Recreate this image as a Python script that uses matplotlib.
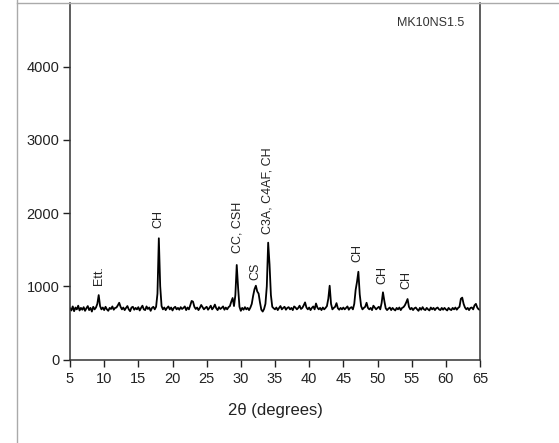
from matplotlib import pyplot as plt
from matplotlib.lines import Line2D
import numpy as np

plt.rcParams['font.family'] = ['Liberation Sans', 'DejaVu Sans']

# Define data (XRD pattern, 0.2 degree steps from 5 to 65).
two_theta = np.round(np.arange(5.0, 65.01, 0.2), 1)
intensity = [
    700, 670, 725, 660, 710, 685, 735, 670, 705, 680,     # 5.0 - 6.8
    715, 665, 700, 730, 675, 705, 655, 720, 685, 710,     # 7.0 - 8.8
    760, 880, 730, 685, 710, 675, 720, 685, 665, 705,     # 9.0 - 10.8
    690, 725, 680, 705, 710, 740, 775, 720, 685, 710,     # 11.0 - 12.8
    675, 705, 730, 685, 660, 710, 720, 680, 705, 685,     # 13.0 - 14.8
    715, 670, 705, 735, 685, 675, 725, 690, 710, 665,     # 15.0 - 16.8
    705, 720, 685, 720, 900, 1656, 1000, 730, 685, 710,   # 17.0 - 18.8
    675, 705, 725, 685, 710, 670, 705, 720, 685, 705,     # 19.0 - 20.8
    680, 715, 690, 705, 725, 675, 710, 685, 740, 800,     # 21.0 - 22.8
    790, 720, 690, 710, 675, 705, 745, 715, 685, 705,     # 23.0 - 24.8
    720, 680, 705, 735, 685, 710, 750, 700, 675, 715,     # 25.0 - 26.8
    690, 705, 725, 680, 710, 685, 715, 730, 790, 840,     # 27.0 - 28.8
    730, 880, 1291, 980, 720, 665, 705, 680, 715, 685,    # 29.0 - 30.8
    705, 675, 710, 760, 870, 960, 1008, 930, 900, 780,    # 31.0 - 32.8
    680, 655, 690, 760, 1000, 1596, 1300, 880, 720, 700,  # 33.0 - 34.8
    685, 710, 675, 705, 730, 685, 705, 720, 680, 705,     # 35.0 - 36.8
    715, 685, 705, 675, 725, 710, 685, 705, 735, 690,     # 37.0 - 38.8
    705, 740, 780, 710, 685, 710, 675, 705, 725, 685,     # 39.0 - 40.8
    765, 710, 685, 705, 675, 710, 685, 705, 730, 830,     # 41.0 - 42.8
    1008, 760, 685, 705, 720, 770, 700, 680, 705, 685,    # 43.0 - 44.8
    710, 685, 705, 725, 680, 705, 715, 685, 760, 950,     # 45.0 - 46.8
    1060, 1199, 890, 730, 685, 705, 720, 775, 705, 685,   # 47.0 - 48.8
    705, 675, 735, 710, 685, 705, 720, 685, 770, 918,     # 49.0 - 50.8
    800, 700, 675, 695, 710, 675, 705, 685, 670, 705,     # 51.0 - 52.8
    685, 710, 675, 705, 715, 740, 780, 826, 720, 685,     # 53.0 - 54.8
    705, 675, 700, 710, 685, 665, 705, 680, 715, 685,     # 55.0 - 56.8
    675, 705, 685, 670, 710, 685, 705, 675, 700, 710,     # 57.0 - 58.8
    685, 675, 705, 680, 705, 685, 670, 705, 685, 675,     # 59.0 - 60.8
    705, 685, 710, 680, 705, 720, 830, 845, 760, 710,     # 61.0 - 62.8
    685, 705, 675, 705, 710, 685, 740, 760, 710, 685,     # 63.0 - 64.8
    680,                                                  # 65.0
]

# Phase labels above the peaks.
peak_labels = ['Ett.', 'CH', 'CC, CSH', 'CS', 'C3A, C4AF, CH', 'CH', 'CH', 'CH']
label_x = [9.2, 18.0, 29.45, 32.1, 33.9, 47.05, 50.7, 54.25]
label_y = [1020, 1800, 1450, 1090, 1715, 1330, 1030, 960]

x_ticks = list(range(5, 66, 5))
y_ticks = [0, 1000, 2000, 3000, 4000]

# Make plot.
fig = plt.figure(figsize=(5.59, 4.43), dpi=100)
ax = fig.add_axes([70/559, 1 - 359.5/443, 410/559, 356.5/443])

ax.plot(two_theta, intensity, color='black', lw=1.3)

for txt, lx, ly in zip(peak_labels, label_x, label_y):
    ax.text(lx, ly, txt, rotation=90, ha='center', va='bottom',
            fontsize=9, color='#222222')

ax.text(0.962, 0.944, 'MK10NS1.5', transform=ax.transAxes, ha='right',
        va='center', fontsize=9, color='#333333')

# Customize plot.
ax.set_xlim(5, 65)
ax.set_ylim(0, 4870)
ax.set_xticks(x_ticks)
ax.set_yticks(y_ticks)
ax.tick_params(axis='both', direction='out', length=5, width=1,
               labelsize=10.5, colors='#222222')
ax.tick_params(axis='x', pad=4)
ax.tick_params(axis='y', pad=2.5)
ax.spines['top'].set_visible(False)
for s in ['left', 'right', 'bottom']:
    ax.spines[s].set_color('#333333')
    ax.spines[s].set_linewidth(1.1)

ax.set_xlabel('2θ (degrees)', fontsize=12, color='#222222', va='center')
ax.xaxis.set_label_coords(0.5, (359.5 - 410) / 356.5)

# Outer frame lines of the original figure.
fig.add_artist(Line2D([17/559, 17/559], [0, 1], transform=fig.transFigure,
                      color='#aaaaaa', lw=1))
fig.add_artist(Line2D([17/559, 1], [1 - 2.5/443, 1 - 2.5/443],
                      transform=fig.transFigure, color='#aaaaaa', lw=1))

fig.savefig('out.png', dpi=100)
